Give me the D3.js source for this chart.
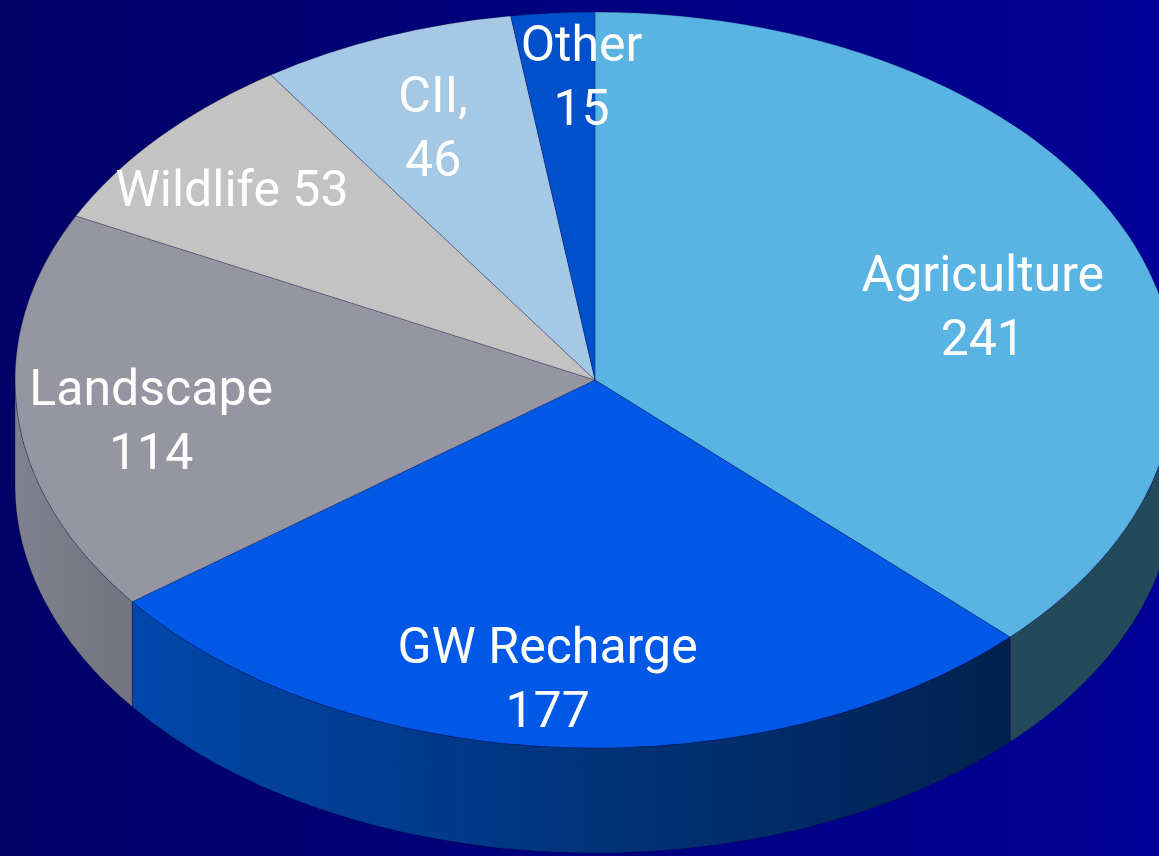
<!DOCTYPE html>
<meta charset="utf-8">
<style>
body { margin: 0; overflow: hidden; }
.label text {
  fill: #fff;
  font: 50px Roboto, "Liberation Sans", sans-serif;
  text-anchor: middle;
}
</style>
<body>
<div id="pie3d"></div>
<script src="https://d3js.org/d3.v7.min.js"></script>
<script>

// data
var categories = ["Agriculture", "GW Recharge", "Landscape", "Wildlife", "CII,", "Other"];
var values = [241, 177, 114, 53, 46, 15];
var topColors = ["#5ab4e3", "#0058e6", "#9696a2", "#c3c3c3", "#a5c9e4", "#0050cc"];
var sideColors = [["#234a5a", "#234a5a"], ["#0047aa", "#00214f"], ["#80808e", "#74747f"],
                  ["#8a8a8a", "#8a8a8a"], ["#6f8fa8", "#6f8fa8"], ["#003a90", "#003a90"]];

// label layout: one-line or two-line and a small nudge from the centroid
var singleLine = [false, false, false, true, false, false];
var labelNudge = [[3, 28], [-21, 33], [-28, 15], [-49, -17], [-11, -7], [17, -41]];

var W = 1159, H = 856;
var cx = 595, cy = 380, rx = 580, ry = 368, depth = 105;
var lineH = 64;

var svg = d3.select("#pie3d").append("svg")
    .attr("width", W)
    .attr("height", H);

var defs = svg.append("defs");

var bg = defs.append("linearGradient").attr("id", "bg")
    .attr("x1", 0).attr("x2", 1).attr("y1", 0).attr("y2", 0);
bg.append("stop").attr("offset", 0).attr("stop-color", "#000066");
bg.append("stop").attr("offset", 1).attr("stop-color", "#000098");

svg.append("rect").attr("width", W).attr("height", H).attr("fill", "url(#bg)");

sideColors.forEach(function(c, i) {
  var g = defs.append("linearGradient").attr("id", "side" + i)
      .attr("x1", 0).attr("x2", 1).attr("y1", 0).attr("y2", 0);
  g.append("stop").attr("offset", 0).attr("stop-color", c[0]);
  g.append("stop").attr("offset", 1).attr("stop-color", c[1]);
});

var data = categories.map(function(c, i) { return {name: c, value: values[i], i: i}; });
var arcs = d3.pie().sort(null).value(function(d) { return d.value; })(data);

function pt(a, dy) {
  return [cx + rx * Math.sin(a), cy - ry * Math.cos(a) + (dy || 0)];
}

// outer walls (only the front half is visible)
var walls = svg.append("g");
arcs.forEach(function(d) {
  var s = Math.max(d.startAngle, Math.PI / 2),
      e = Math.min(d.endAngle, Math.PI * 1.5);
  if (s >= e) return;
  var p0 = pt(s), p1 = pt(e), p2 = pt(e, depth), p3 = pt(s, depth);
  var path = "M" + p0 + " A" + rx + "," + ry + " 0 0 1 " + p1 +
             " L" + p2 + " A" + rx + "," + ry + " 0 0 0 " + p3 + " Z";
  walls.append("path")
      .attr("d", path)
      .attr("fill", "url(#side" + d.data.i + ")")
      .attr("stroke", "rgba(0,0,40,0.35)")
      .attr("stroke-width", 0.8);
});

// top face
var tops = svg.append("g");
arcs.forEach(function(d) {
  var p0 = pt(d.startAngle), p1 = pt(d.endAngle);
  var large = (d.endAngle - d.startAngle) > Math.PI ? 1 : 0;
  var path = "M" + cx + "," + cy + " L" + p0 + " A" + rx + "," + ry + " 0 " + large + " 1 " + p1 + " Z";
  tops.append("path")
      .attr("d", path)
      .attr("fill", topColors[d.data.i])
      .attr("stroke", "rgba(0,0,40,0.3)")
      .attr("stroke-width", 0.8);
});

// labels
var labels = svg.append("g").attr("class", "label");
arcs.forEach(function(d) {
  var i = d.data.i;
  var mid = (d.startAngle + d.endAngle) / 2;
  var c = [cx + rx * 0.72 * Math.sin(mid) + labelNudge[i][0],
           cy - ry * 0.72 * Math.cos(mid) + labelNudge[i][1]];
  if (singleLine[i]) {
    labels.append("text").attr("x", c[0]).attr("y", c[1] + 18)
        .text(d.data.name + " " + d.data.value);
  } else {
    labels.append("text").attr("x", c[0]).attr("y", c[1] - 14).text(d.data.name);
    labels.append("text").attr("x", c[0]).attr("y", c[1] - 14 + lineH).text(d.data.value);
  }
});

</script>
</body>
